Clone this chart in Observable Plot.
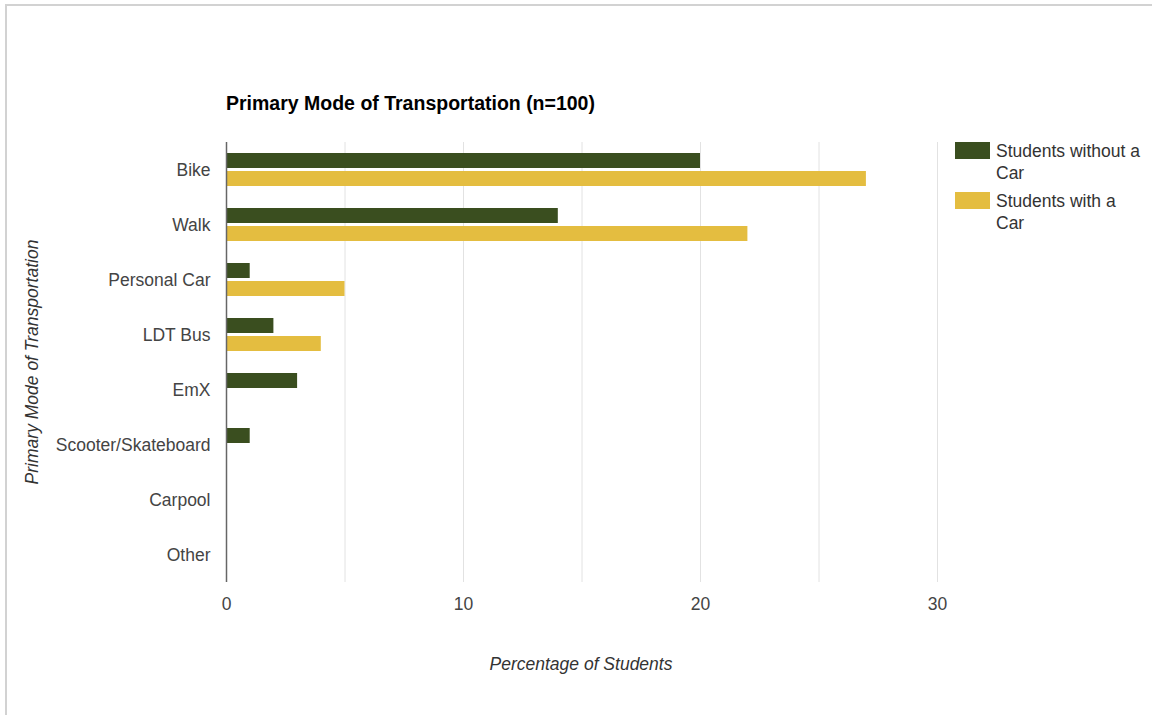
<!DOCTYPE html>
<html>
<head>
<meta charset="utf-8">
<script src="https://cdn.jsdelivr.net/npm/d3@7"></script>
<script src="https://cdn.jsdelivr.net/npm/@observablehq/plot@0.6"></script>
<style>
  html, body { margin: 0; padding: 0; background: #fff; }
  #wrap { position: relative; width: 1152px; height: 715px; overflow: hidden; font-family: Arial, "Liberation Sans", sans-serif; }
  #frame { position: absolute; left: 5px; top: 4px; width: 1160px; height: 720px; border-top: 2px solid #d2d2d2; border-left: 2px solid #d2d2d2; box-sizing: border-box; }
  #chart { position: absolute; left: 0; top: 0; }
  #title { position: absolute; left: 226px; top: 94px; font-size: 19.5px; line-height: 19.5px; font-weight: bold; color: #000; white-space: nowrap; }
  .axtitle { position: absolute; font-size: 17.5px; line-height: 17.5px; font-style: italic; color: #333; white-space: nowrap; }
  #xtitle { left: 581px; top: 656px; transform: translateX(-50%); }
  #ytitle { left: 33px; top: 362px; transform: translate(-50%, -50%) rotate(-90deg); }
  #legend { position: absolute; left: 955px; top: 142px; }
  .item { position: relative; height: 50px; }
  .sw { position: absolute; left: 0; top: 0; width: 35px; height: 17px; }
  .lt { position: absolute; left: 41px; top: 0px; font-size: 17.5px; line-height: 22px; color: #333; white-space: nowrap; }
</style>
</head>
<body>
<div id="wrap">
  <div id="frame"></div>
  <div id="chart"></div>
  <div id="title"></div>
  <div id="xtitle" class="axtitle"></div>
  <div id="ytitle" class="axtitle"></div>
  <div id="legend"></div>
</div>
<script>
const titleText = "Primary Mode of Transportation (n=100)";
const xAxisTitle = "Percentage of Students";
const yAxisTitle = "Primary Mode of Transportation";
const categories = ["Bike", "Walk", "Personal Car", "LDT Bus", "EmX", "Scooter/Skateboard", "Carpool", "Other"];
const seriesNames = ["Students without a Car", "Students with a Car"];
const legendLines = [["Students without a", "Car"], ["Students with a", "Car"]];
const withoutCar = [20, 14, 1, 2, 3, 1, 0, 0];
const withCar = [27, 22, 5, 4, 0, 0, 0, 0];
const xTicks = [0, 10, 20, 30];
const gridTicks = [0, 5, 10, 15, 20, 25, 30];
const colors = ["#3a4e1f", "#e4bd40"];

const data = [];
categories.forEach((c, i) => {
  data.push({mode: c, series: seriesNames[0], value: withoutCar[i]});
  data.push({mode: c, series: seriesNames[1], value: withCar[i]});
});

const chart = Plot.plot({
  width: 1152,
  height: 715,
  marginLeft: 226,
  marginRight: 215,
  marginTop: 142,
  marginBottom: 133,
  style: {fontFamily: "Arial, 'Liberation Sans', sans-serif", fontSize: "17.5px", color: "#444", background: "transparent", overflow: "visible"},
  x: {domain: [0, 30], ticks: xTicks, tickSize: 0, tickPadding: 15, label: null},
  fy: {domain: categories, padding: 0, axis: "left", tickSize: 0, tickPadding: 16, label: null},
  y: {domain: seriesNames, paddingInner: 0.17, paddingOuter: 0.61, axis: null},
  color: {domain: seriesNames, range: colors},
  marks: [
    Plot.ruleX(gridTicks.filter(d => d > 0), {stroke: "#e2e2e2", strokeWidth: 1}),
    Plot.barX(data, {fy: "mode", y: "series", x: "value", fill: "series"}),
    Plot.ruleX([0], {stroke: "#666", strokeWidth: 1.5})
  ]
});
document.getElementById("chart").appendChild(chart);

document.getElementById("title").textContent = titleText;
document.getElementById("xtitle").textContent = xAxisTitle;
document.getElementById("ytitle").textContent = yAxisTitle;

const legend = document.getElementById("legend");
seriesNames.forEach((s, i) => {
  const item = document.createElement("div");
  item.className = "item";
  const sw = document.createElement("div");
  sw.className = "sw";
  sw.style.background = colors[i];
  const lt = document.createElement("div");
  lt.className = "lt";
  lt.style.top = "-2px";
  legendLines[i].forEach((line, j) => {
    if (j) lt.appendChild(document.createElement("br"));
    lt.appendChild(document.createTextNode(line));
  });
  item.appendChild(sw);
  item.appendChild(lt);
  legend.appendChild(item);
});
</script>
</body>
</html>
